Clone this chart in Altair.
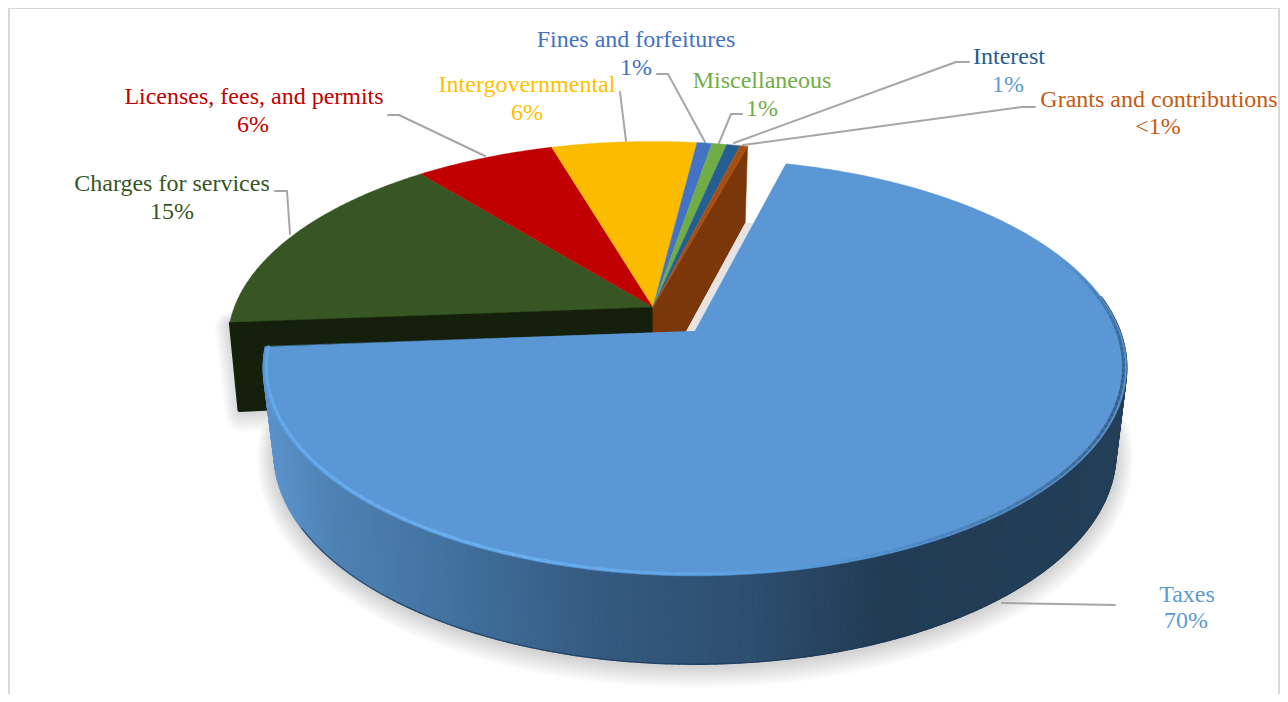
import math
import altair as alt

# ---- chart values ----
categories = ["Taxes", "Charges for services", "Licenses, fees, and permits", "Intergovernmental",
              "Fines and forfeitures", "Miscellaneous", "Interest", "Grants and contributions"]
shares = [69.53, 15.39, 6.28, 6.53, 0.67, 0.67, 0.61, 0.33]
share_labels = ["70%", "15%", "6%", "6%", "1%", "1%", "1%", "<1%"]

# ---- styles ----
top_colors = ["#5B97D5", "#375623", "#C00000", "#FBBC00", "#4472C4", "#70AD47", "#255E91", "#A84E10"]
name_colors = ["#5B9BD5", "#375623", "#C00000", "#FFC000", "#4472C4", "#70AD47", "#255E91", "#C55A11"]
pct_colors = ["#5B9BD5", "#375623", "#C00000", "#FFC000", "#4472C4", "#70AD47", "#5B9BD5", "#C55A11"]
name_pos = [(1187, 595), (172, 184), (254, 97), (527, 85), (636, 40), (762, 81), (1009, 57), (1159, 100)]
pct_pos = [(1186, 621), (172, 212), (253, 125), (527, 113), (636, 68), (762, 109), (1008, 85), (1158, 127)]
font_sizes = [24, 24, 24, 24, 24, 24, 24, 24]
leaders = [
    [(1002, 603), (1115, 605)],
    [(275, 191), (287, 191), (290, 234)],
    [(388, 115), (399, 115), (485, 156)],
    [(620, 92), (626, 141)],
    [(657, 74), (668, 74), (705, 142)],
    [(742, 114), (731, 114), (719, 143)],
    [(969, 62), (956, 62), (734, 143)],
    [(1035, 107), (1022, 107), (743, 145)],
]

# ---- perspective disc model ----
START = 15.3
TAX_GAP = 0.8
A, B, P_, DY, B2, S = 425.0, 202.0, 0.175, 85.0, 204.7, 0.975
MAIN = (653.0, 307.0)
TAX = (695.0, 331.0)
MAIN_AX, MAIN_BY = 0.985, 0.963


def top(apex, th, r=1.0):
    t = math.radians(th)
    w = 1 + P_ * r * math.cos(t)
    ka, kb = (MAIN_AX, MAIN_BY) if apex is MAIN else (1.0, 1.0)
    return (apex[0] + ka * A * r * math.sin(t) / w, apex[1] - kb * B * r * math.cos(t) / w)


def bot(apex, th, r=1.0):
    t = math.radians(th)
    w = 1 + P_ * r * math.cos(t)
    ka = MAIN_AX if apex is MAIN else 1.0
    return (apex[0] + ka * S * A * r * math.sin(t) / w, apex[1] + DY - B2 * r * math.cos(t) / w)


def arc(a, b, step=1.0):
    n = max(2, int(abs(b - a) / step) + 1)
    return [a + (b - a) * i / n for i in range(n + 1)]


def mix(stops, t):
    stops = sorted(stops)
    if t <= stops[0][0]:
        return stops[0][1]
    if t >= stops[-1][0]:
        return stops[-1][1]
    for (t0, c0), (t1, c1) in zip(stops, stops[1:]):
        if t0 <= t <= t1:
            f = (t - t0) / (t1 - t0)
            a = [int(c0[i:i + 2], 16) for i in (1, 3, 5)]
            b = [int(c1[i:i + 2], 16) for i in (1, 3, 5)]
            return "#%02x%02x%02x" % tuple(round(x + (y - x) * f) for x, y in zip(a, b))


features = []


def poly(pts, fill, stroke=None, sw=0.0, op=1.0):
    ring = [list(p) for p in pts] + [list(pts[0])]
    features.append({"type": "Feature", "geometry": {"type": "Polygon", "coordinates": [ring]},
                     "properties": {"fill": fill, "stroke": stroke or fill, "sw": sw, "op": op}})


def line(pts, stroke, sw, op=1.0):
    features.append({"type": "Feature",
                     "geometry": {"type": "LineString", "coordinates": [list(p) for p in pts]},
                     "properties": {"fill": "transparent", "stroke": stroke, "sw": sw, "op": op}})


# slice angles from the shares
total = sum(shares)
edges = [START]
for s in shares:
    edges.append(edges[-1] + 360 * s / total)
main_a, tax_b = edges[0], edges[1]
tax_a = main_a - TAX_GAP

# frame (the right side sits at the last column the page can show)
line([(9, 710), (9, 8), (1279, 8), (1279, 710)], "#d9d9d9", 2)

# soft shadows
bottom_outline = [bot(TAX, t) for t in arc(tax_a + 50, tax_b, 2)]
wall_outline = [top(MAIN, tax_b), MAIN, (MAIN[0], MAIN[1] + DY), bot(MAIN, tax_b)]
for w in range(34, 1, -3):
    d = 1 + w / 6
    poly([(x, y + d) for x, y in bottom_outline], "transparent", "#000000", w, 0.013)
    poly([(x + 2, y + d) for x, y in wall_outline], "transparent", "#000000", w, 0.013)

# leader lines
for pts in leaders:
    line(pts, "#a6a6a6", 2)

# dark cut walls of the other slices
poly([(wall_outline[0][0] + 1, wall_outline[0][1] + 1), wall_outline[1], wall_outline[2],
      (wall_outline[3][0] - 1, wall_outline[3][1] + 2)], "#141F0C", "#141F0C", 4)
poly([MAIN, top(MAIN, main_a), bot(MAIN, main_a), (MAIN[0], MAIN[1] + DY)], "#7B3709", "#7B3709", 0.6)

# top faces of the other slices
for i in range(1, len(shares)):
    pts = [MAIN] + [top(MAIN, t) for t in arc(edges[i], edges[i + 1], 0.5)]
    poly(pts, top_colors[i], top_colors[i], 0.4)

# pale gap beside the brown wall
b0 = bot(MAIN, main_a)
tc = top(TAX, tax_a)
f = (b0[1] - TAX[1]) / (tc[1] - TAX[1])
poly([b0, (MAIN[0] + (b0[0] - MAIN[0]) * (MAIN[1] + DY - TAX[1]) / (MAIN[1] + DY - b0[1]), TAX[1]),
      TAX, (TAX[0] + (tc[0] - TAX[0]) * f, b0[1])], "#E8E3E3")

# outer wall of the taxes slice, shaded across the picture
wall_stops = [(265, "#5B93CC"), (330, "#4F82B4"), (450, "#41719F"), (600, "#345A80"),
              (750, "#2D4F70"), (880, "#223C55"), (1130, "#243F58")]
ths = arc(tax_b, 80, 0.7)
for a0, a1 in zip(ths, ths[1:]):
    xm = (top(TAX, a0)[0] + top(TAX, a1)[0]) / 2
    c = mix(wall_stops, xm)
    poly([top(TAX, a0), top(TAX, a1), bot(TAX, a1), bot(TAX, a0)], c, c, 1.6)
# dark lower edge of the wall
line([bot(TAX, t) for t in arc(240, 110, 2)], "#1F3A57", 1.2, 0.7)

# top of the taxes slice
tax_pts = [TAX] + [top(TAX, t) for t in arc(tax_a, tax_b, 0.5)]
poly(tax_pts, top_colors[0], top_colors[0], 0.5)

# bevel round the rim
rim_stops = [(66, "#5B97D5"), (78, "#4B80B5"), (92, "#3A668F"), (110, "#34597C"), (135, "#3F6F9E"),
             (158, "#4E8CC8"), (176, "#5FA6E8"), (200, "#6FB5F5"), (240, "#68AEF0"), (267, "#62AAEE")]
ths = arc(68, tax_b, 1.5)
for a0, a1 in zip(ths, ths[1:]):
    line([top(TAX, a0, 0.993), top(TAX, a1, 0.993)], mix(rim_stops, (a0 + a1) / 2), 3.0, 0.75)

shapes = (
    alt.Chart(alt.Data(values=features))
    .mark_geoshape(strokeJoin="round", strokeCap="round")
    .encode(
        fill=alt.Fill("properties.fill:N", scale=None),
        stroke=alt.Stroke("properties.stroke:N", scale=None),
        strokeWidth=alt.StrokeWidth("properties.sw:Q", scale=None),
        opacity=alt.Opacity("properties.op:Q", scale=None),
    )
    .project(type="identity", scale=1, translate=[-8, -8])
)

rows = []
for i, c in enumerate(categories):
    rows.append({"t": c, "lon": name_pos[i][0], "lat": name_pos[i][1], "c": name_colors[i], "s": font_sizes[i]})
    rows.append({"t": share_labels[i], "lon": pct_pos[i][0], "lat": pct_pos[i][1], "c": pct_colors[i], "s": font_sizes[i]})

labels = (
    alt.Chart(alt.Data(values=rows))
    .mark_text(font="Liberation Serif", align="center", baseline="middle")
    .encode(
        longitude="lon:Q",
        latitude="lat:Q",
        text="t:N",
        color=alt.Color("c:N", scale=None),
        size=alt.Size("s:Q", scale=None),
    )
    .project(type="identity", scale=1, translate=[-8, -8])
)

chart = (
    alt.layer(shapes, labels)
    .properties(width=1272, height=686, padding=0, autosize=alt.AutoSizeParams(type="none"))
    .configure_view(stroke=None)
)
chart.save("out.html", embed_options={"renderer": "svg", "actions": False})
